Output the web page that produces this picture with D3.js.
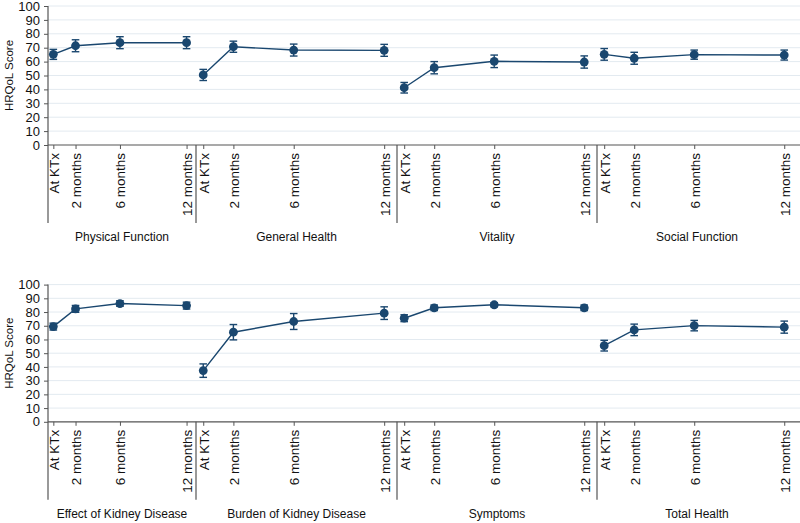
<!DOCTYPE html>
<html>
<head>
<meta charset="utf-8">
<script src="https://cdn.jsdelivr.net/npm/d3@7"></script>
<style>
  body { margin: 0; background: #fff; }
  text { font-family: "Liberation Sans", Arial, sans-serif; fill: #111; }
</style>
</head>
<body>
<svg id="chart"></svg>
<script>
// Time points shown under every domain
const timeLabels = ["At KTx", "2 months", "6 months", "12 months"];
const timeMonths = [0, 2, 6, 12];
const yTickValues = [0, 10, 20, 30, 40, 50, 60, 70, 80, 90, 100];

// Top row domains: mean score and half width of the error bar
const topDomains = ["Physical Function", "General Health", "Vitality", "Social Function"];
const topMeans = [
    [65.2, 71.4, 73.6, 73.6],
    [50.4, 70.7, 68.3, 68.1],
    [41.2, 55.6, 60.2, 59.7],
    [65.2, 62.4, 65.0, 64.7]
];
const topErr = [
    [3.6, 4.3, 4.3, 4.3],
    [4.0, 4.0, 4.3, 4.3],
    [3.8, 4.4, 4.5, 4.4],
    [4.2, 4.3, 3.3, 3.6]
];

// Bottom row domains
const bottomDomains = ["Effect of Kidney Disease", "Burden of Kidney Disease", "Symptoms", "Total Health"];
const bottomMeans = [
    [69.4, 82.3, 86.2, 84.7],
    [37.3, 65.3, 73.1, 79.2],
    [75.5, 83.1, 85.3, 83.1],
    [55.5, 67.0, 70.1, 69.0]
];
const bottomErr = [
    [2.5, 2.5, 2.0, 2.5],
    [4.9, 5.6, 5.8, 4.6],
    [2.5, 2.0, 1.5, 2.0],
    [3.9, 4.2, 3.8, 4.4]
];

const width = 800, height = 523;
const navy = "#1a476f";
const axisColor = "#555";
const gridColor = "#e3eaf0";

// panel edges along x (first panel starts at the y axis)
const panelEdges = [48, 196, 397, 597, 797];

const svg = d3.select("#chart")
    .attr("width", width)
    .attr("height", height)
    .style("background", "#fff");

function drawRow(names, means, errs, yBottom, yTop) {
    const yScale = d3.scaleLinear().domain([0, 100]).range([yBottom, yTop]);
    const g = svg.append("g");

    // gridlines
    g.selectAll(".grid")
        .data(yTickValues.filter(d => d > 0))
        .enter().append("line")
        .attr("x1", panelEdges[0])
        .attr("x2", width)
        .attr("y1", d => yScale(d))
        .attr("y2", d => yScale(d))
        .attr("stroke", gridColor)
        .attr("stroke-width", 1);

    // y axis
    const yAxis = g.append("g")
        .attr("transform", `translate(${panelEdges[0]},0)`)
        .call(d3.axisLeft(yScale).tickValues(yTickValues).tickSize(4).tickPadding(4));
    yAxis.select(".domain").remove();
    yAxis.selectAll(".tick line").attr("stroke", axisColor);
    yAxis.selectAll(".tick text")
        .style("font-size", "13px")
        .style("font-family", "Liberation Sans, Arial, sans-serif")
        .attr("fill", "#111");

    // y axis line (runs down past the x axis as a separator)
    g.append("line")
        .attr("x1", panelEdges[0]).attr("x2", panelEdges[0])
        .attr("y1", yTop).attr("y2", yBottom + 78)
        .attr("stroke", axisColor).attr("stroke-width", 1.2);

    // y axis title
    g.append("text")
        .attr("transform", "rotate(-90)")
        .attr("x", -(yBottom + yTop) / 2)
        .attr("y", 13)
        .style("text-anchor", "middle")
        .style("font-size", "11.5px")
        .text("HRQoL Score");

    // x axis line
    g.append("line")
        .attr("x1", panelEdges[0]).attr("x2", width)
        .attr("y1", yBottom).attr("y2", yBottom)
        .attr("stroke", axisColor).attr("stroke-width", 1.2);

    names.forEach((name, i) => {
        const xScale = d3.scaleLinear()
            .domain([-0.48, 12.85])
            .range([panelEdges[i], panelEdges[i + 1]]);

        // separator
        if (i > 0) {
            g.append("line")
                .attr("x1", panelEdges[i]).attr("x2", panelEdges[i])
                .attr("y1", yBottom).attr("y2", yBottom + 78)
                .attr("stroke", axisColor).attr("stroke-width", 1.2);
        }

        // x axis ticks and labels
        const xAxis = g.append("g")
            .attr("transform", `translate(0,${yBottom})`)
            .call(d3.axisBottom(xScale)
                .tickValues(timeMonths)
                .tickFormat((d, j) => timeLabels[j])
                .tickSize(4));
        xAxis.select(".domain").remove();
        xAxis.selectAll(".tick line").attr("stroke", axisColor);
        xAxis.selectAll(".tick text")
            .attr("transform", "rotate(-90)")
            .attr("x", -8)
            .attr("y", 0)
            .attr("dy", "0.36em")
            .style("text-anchor", "end")
            .style("font-size", "13.5px")
            .style("font-family", "Liberation Sans, Arial, sans-serif")
            .attr("fill", "#111");

        // group label
        g.append("text")
            .attr("x", (panelEdges[i] + panelEdges[i + 1]) / 2)
            .attr("y", yBottom + 96)
            .style("text-anchor", "middle")
            .style("font-size", "12px")
            .text(name);

        const pts = timeMonths.map((m, j) => ({m: m, v: means[i][j], e: errs[i][j]}));

        // connecting line
        g.append("path")
            .datum(pts)
            .attr("fill", "none")
            .attr("stroke", navy)
            .attr("stroke-width", 1.4)
            .attr("d", d3.line().x(d => xScale(d.m)).y(d => yScale(d.v)));

        // error bars
        pts.forEach(d => {
            const x = xScale(d.m);
            g.append("line")
                .attr("x1", x).attr("x2", x)
                .attr("y1", yScale(d.v - d.e)).attr("y2", yScale(d.v + d.e))
                .attr("stroke", navy).attr("stroke-width", 1.4);
            [d.v - d.e, d.v + d.e].forEach(c => {
                g.append("line")
                    .attr("x1", x - 3.8).attr("x2", x + 3.8)
                    .attr("y1", yScale(c)).attr("y2", yScale(c))
                    .attr("stroke", navy).attr("stroke-width", 1.4);
            });
        });

        // markers
        g.selectAll(null)
            .data(pts)
            .enter().append("circle")
            .attr("cx", d => xScale(d.m))
            .attr("cy", d => yScale(d.v))
            .attr("r", 4.4)
            .attr("fill", navy);
    });
}

drawRow(topDomains, topMeans, topErr, 145, 6);
drawRow(bottomDomains, bottomMeans, bottomErr, 421.8, 284.6);
</script>
</body>
</html>
